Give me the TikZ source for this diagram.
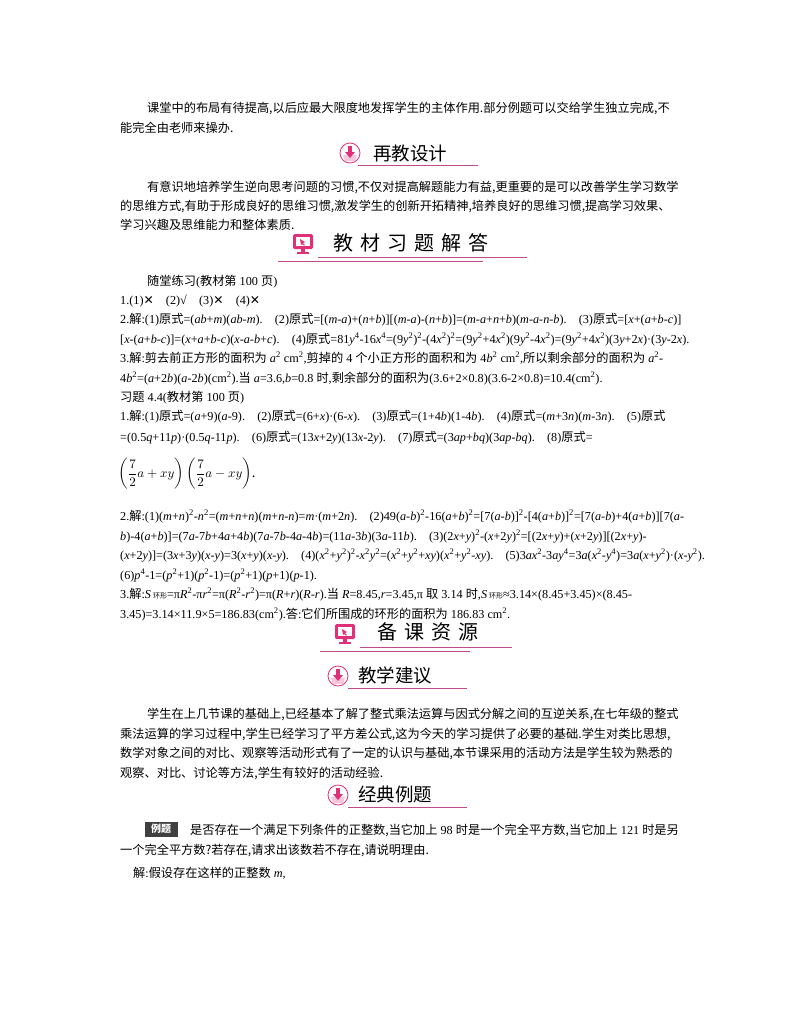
\documentclass[tikz,border=0pt]{standalone}
\usepackage{fontspec}
\setmainfont{Noto Sans CJK SC}
\newfontfamily\tm{Liberation Serif}
\newfontfamily\djv{DejaVu Sans}
\newcommand\F[1]{{\tm #1}}
\newcommand\I[1]{\textit{#1}}
\newcommand\sq[1]{\textsuperscript{#1}}
\definecolor{mag}{HTML}{E0307A}
\definecolor{lnc}{HTML}{C04A8C}
\definecolor{lpink}{HTML}{F6C6DA}
\tikzset{ln/.style={anchor=base west,inner sep=0,font=\fontsize{12.2}{14}\selectfont},
 hd/.style={anchor=west,inner sep=0,font=\fontsize{18.5}{20}\selectfont},
 rule/.style={lnc,line width=0.9pt}}
\newcommand\circicon[2]{% x y
 \draw[mag,line width=0.8pt,fill=white] (#1,#2) circle (10);
 \fill[lpink] (#1-7,#2+2) -- (#1+7,#2+2) -- (#1+5,#2+8) -- (#1-5,#2+8) -- cycle;
 \fill[mag] (#1-2,#2-7) rectangle (#1+2,#2-1);
 \fill[mag] (#1-5,#2-1) -- (#1+5,#2-1) -- (#1,#2+5) -- cycle;}
\newcommand\monicon[2]{% x y center
 \fill[mag,rounded corners=1.5pt] (#1-10,#2-9) rectangle (#1+10,#2+6);
 \fill[white] (#1-7,#2-6) rectangle (#1+7,#2+3);
 \fill[mag] (#1-3,#2-4) -- (#1+2,#2-1) -- (#1,#2) -- (#1+2,#2+2) -- (#1+1,#2+2.5) -- (#1-1,#2+1) -- (#1-2,#2+2)-- cycle;
 \fill[mag] (#1-2,#2+6) rectangle (#1+2,#2+9);
 \fill[mag] (#1-6,#2+9) rectangle (#1+6,#2+11);}
\begin{document}
\begin{tikzpicture}[x=1pt,y=-1pt]
\useasboundingbox[fill=white] (0,0) rectangle (800,1028);
% top paragraph
\node[ln] (p1) at (147,112) {课堂中的布局有待提高,以后应最大限度地发挥学生的主体作用.部分例题可以交给学生独立完成,不};
\node[ln] (p2) at (120,132) {能完全由老师来操办.};
% header 再教设计
\circicon{350}{153}
\node[hd] (h1) at (373,153) {再教设计};
\draw[rule] (358,165) -- (478,165);
\node[ln] (q1) at (147,191) {有意识地培养学生逆向思考问题的习惯,不仅对提高解题能力有益,更重要的是可以改善学生学习数学};
\node[ln] (q2) at (120,210) {的思维方式,有助于形成良好的思维习惯,激发学生的创新开拓精神,培养良好的思维习惯,提高学习效果、};
\node[ln] (q3) at (120,229) {学习兴趣及思维能力和整体素质.};
% header 教材习题解答
\monicon{303}{243}
\node[hd,font=\fontsize{20}{22}\selectfont] (h2) at (333,243) {教\hspace{7pt}材\hspace{7pt}习\hspace{7pt}题\hspace{7pt}解\hspace{7pt}答};
\draw[rule] (318,257) -- (527,257);
\draw[rule] (278,261) -- (483,261);
% answers
\node[ln] (a0) at (147,285) {随堂练习\F{(}教材第\F{ 100 }页\F{)}};
\node[ln] (a1) at (120,304) {\F{1.(1)}{\djv ✕}\F{\quad(2)√\quad(3)}{\djv ✕}\F{\quad(4)}{\djv ✕}};
\node[ln] (a2) at (120,323) {\F{2.}解\F{:(1)}原式\F{=(\I{ab}+\I{m})(\I{ab}-\I{m}).\quad(2)}原式\F{=[(\I{m}-\I{a})+(\I{n}+\I{b})][(\I{m}-\I{a})-(\I{n}+\I{b})]=(\I{m}-\I{a}+\I{n}+\I{b})(\I{m}-\I{a}-\I{n}-\I{b}).\quad(3)}原式\F{=[\I{x}+(\I{a}+\I{b}-\I{c})]}};
\node[ln] (a3) at (120,343) {\F{[\I{x}-(\I{a}+\I{b}-\I{c})]=(\I{x}+\I{a}+\I{b}-\I{c})(\I{x}-\I{a}-\I{b}+\I{c}).\quad(4)}原式\F{=81\I{y}\sq{4}-16\I{x}\sq{4}=(9\I{y}\sq{2})\sq{2}-(4\I{x}\sq{2})\sq{2}=(9\I{y}\sq{2}+4\I{x}\sq{2})(9\I{y}\sq{2}-4\I{x}\sq{2})=(9\I{y}\sq{2}+4\I{x}\sq{2})(3\I{y}+2\I{x})·(3\I{y}-2\I{x}).}};
\node[ln] (a4) at (120,362) {\F{3.}解\F{:}剪去前正方形的面积为\F{ \I{a}\sq{2} cm\sq{2},}剪掉的\F{ 4 }个小正方形的面积和为\F{ 4\I{b}\sq{2} cm\sq{2},}所以剩余部分的面积为\F{ \I{a}\sq{2}-}};
\node[ln] (a5) at (120,382) {\F{4\I{b}\sq{2}=(\I{a}+2\I{b})(\I{a}-2\I{b})(cm\sq{2}).}当\F{ \I{a}=3.6,\I{b}=0.8 }时\F{,}剩余部分的面积为\F{(3.6+2×0.8)(3.6-2×0.8)=10.4(cm\sq{2}).}};
\node[ln] (a6) at (120,401) {习题\F{ 4.4(}教材第\F{ 100 }页\F{)}};
\node[ln] (a7) at (120,420) {\F{1.}解\F{:(1)}原式\F{=(\I{a}+9)(\I{a}-9).\quad(2)}原式\F{=(6+\I{x})·(6-\I{x}).\quad(3)}原式\F{=(1+4\I{b})(1-4\I{b}).\quad(4)}原式\F{=(\I{m}+3\I{n})(\I{m}-3\I{n}).\quad(5)}原式};
\node[ln] (a8) at (120,441) {\F{=(0.5\I{q}+11\I{p})·(0.5\I{q}-11\I{p}).\quad(6)}原式\F{=(13\I{x}+2\I{y})(13\I{x}-2\I{y}).\quad(7)}原式\F{=(3\I{ap}+\I{bq})(3\I{ap}-\I{bq}).\quad(8)}原式\F{=}};
\node[anchor=west,inner sep=0] (frac) at (118,474) {\scalebox{1.3}{$\displaystyle\left(\frac{7}{2}a+xy\right)\left(\frac{7}{2}a-xy\right)$.}};
\node[ln] (b1) at (120,520) {\F{2.}解\F{:(1)(\I{m}+\I{n})\sq{2}-\I{n}\sq{2}=(\I{m}+\I{n}+\I{n})(\I{m}+\I{n}-\I{n})=\I{m}·(\I{m}+2\I{n}).\quad(2)49(\I{a}-\I{b})\sq{2}-16(\I{a}+\I{b})\sq{2}=[7(\I{a}-\I{b})]\sq{2}-[4(\I{a}+\I{b})]\sq{2}=[7(\I{a}-\I{b})+4(\I{a}+\I{b})][7(\I{a}-}};
\node[ln] (b2) at (120,540) {\F{\I{b})-4(\I{a}+\I{b})]=(7\I{a}-7\I{b}+4\I{a}+4\I{b})(7\I{a}-7\I{b}-4\I{a}-4\I{b})=(11\I{a}-3\I{b})(3\I{a}-11\I{b}).\quad(3)(2\I{x}+\I{y})\sq{2}-(\I{x}+2\I{y})\sq{2}=[(2\I{x}+\I{y})+(\I{x}+2\I{y})][(2\I{x}+\I{y})-}};
\node[ln] (b3) at (120,559) {\F{(\I{x}+2\I{y})]=(3\I{x}+3\I{y})(\I{x}-\I{y})=3(\I{x}+\I{y})(\I{x}-\I{y}).\quad(4)(\I{x}\sq{2}+\I{y}\sq{2})\sq{2}-\I{x}\sq{2}\I{y}\sq{2}=(\I{x}\sq{2}+\I{y}\sq{2}+\I{xy})(\I{x}\sq{2}+\I{y}\sq{2}-\I{xy}).\quad(5)3\I{ax}\sq{2}-3\I{ay}\sq{4}=3\I{a}(\I{x}\sq{2}-\I{y}\sq{4})=3\I{a}(\I{x}+\I{y}\sq{2})·(\I{x}-\I{y}\sq{2}).}};
\node[ln] (b4) at (120,579) {\F{(6)\I{p}\sq{4}-1=(\I{p}\sq{2}+1)(\I{p}\sq{2}-1)=(\I{p}\sq{2}+1)(\I{p}+1)(\I{p}-1).}};
\node[ln] (b5) at (120,598) {\F{3.}解\F{:\I{S}\,}{\fontsize{7}{8}\selectfont 环形}\F{=π\I{R}\sq{2}-π\I{r}\sq{2}=π(\I{R}\sq{2}-\I{r}\sq{2})=π(\I{R}+\I{r})(\I{R}-\I{r}).}当\F{ \I{R}=8.45,\I{r}=3.45,π }取\F{ 3.14 }时\F{,\I{S}\,}{\fontsize{7}{8}\selectfont 环形}\F{≈3.14×(8.45+3.45)×(8.45-}};
\node[ln] (b6) at (120,618) {\F{3.45)=3.14×11.9×5=186.83(cm\sq{2}).}答\F{:}它们所围成的环形的面积为\F{ 186.83 cm\sq{2}.}};
% header 备课资源
\monicon{345}{633}
\node[hd,font=\fontsize{20}{22}\selectfont] (h3) at (377,632) {备\hspace{7pt}课\hspace{7pt}资\hspace{7pt}源};
\draw[rule] (360,647) -- (512,647);
\draw[rule] (320,651) -- (470,651);
% header 教学建议
\circicon{338}{676}
\node[hd] (h4) at (358,675) {教学建议};
\draw[rule] (348,688) -- (467,688);
\node[ln] (c1) at (147,718) {学生在上几节课的基础上,已经基本了解了整式乘法运算与因式分解之间的互逆关系,在七年级的整式};
\node[ln] (c2) at (120,738) {乘法运算的学习过程中,学生已经学习了平方差公式,这为今天的学习提供了必要的基础.学生对类比思想,};
\node[ln] (c3) at (120,757) {数学对象之间的对比、观察等活动形式有了一定的认识与基础,本节课采用的活动方法是学生较为熟悉的};
\node[ln] (c4) at (120,777) {观察、对比、讨论等方法,学生有较好的活动经验.};
% header 经典例题
\circicon{338}{795}
\node[hd] (h5) at (358,794) {经典例题};
\draw[rule] (348,807) -- (467,807);
\node[fill=black!75,text=white,inner sep=1.5pt,font=\fontsize{10}{11}\selectfont\bfseries,minimum width=33pt,minimum height=15pt] (ex) at (161,829) {例题};
\node[ln] (d1) at (190,834) {是否存在一个满足下列条件的正整数,当它加上\F{ 98 }时是一个完全平方数,当它加上\F{ 121 }时是另};
\node[ln] (d2) at (120,854) {一个完全平方数?若存在,请求出该数若不存在,请说明理由.};
\node[ln] (d3) at (133,877) {解\F{:}假设存在这样的正整数\F{ \I{m},}};
\end{tikzpicture}
\end{document}
